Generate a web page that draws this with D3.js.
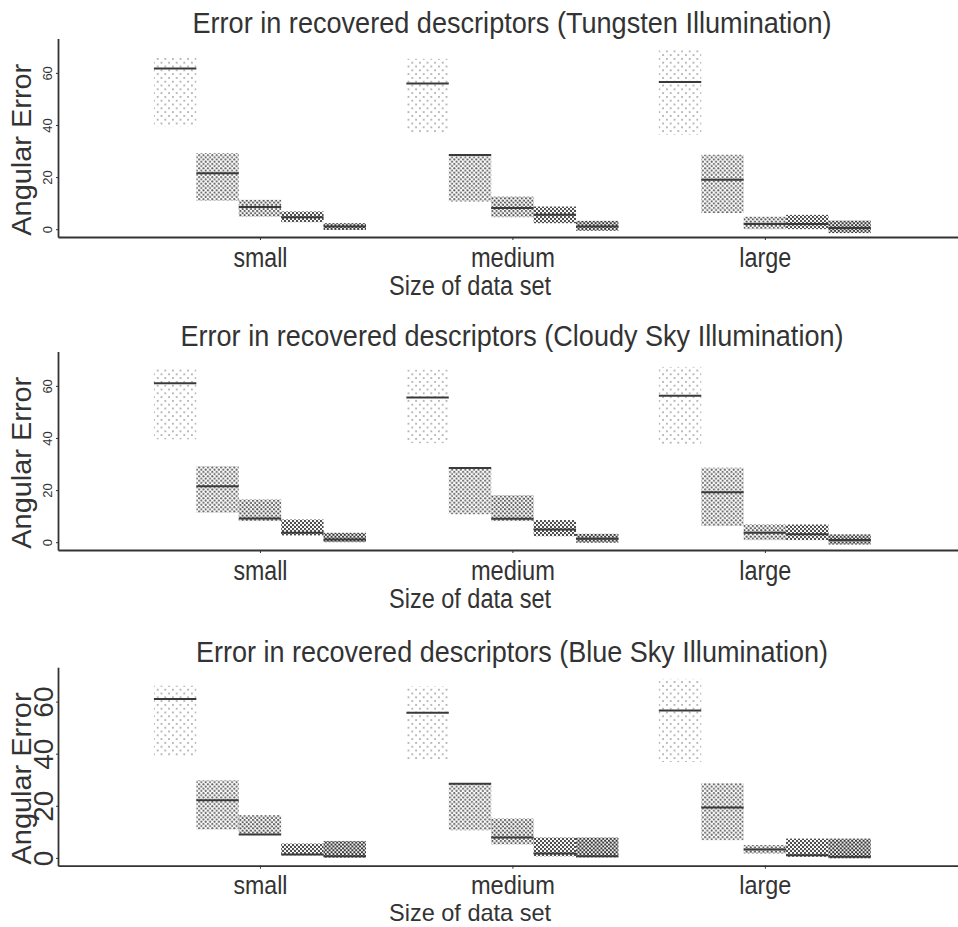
<!DOCTYPE html>
<html>
<head>
<meta charset="utf-8">
<script src="https://cdn.jsdelivr.net/npm/d3@7"></script>
<style>
  html, body { margin: 0; padding: 0; background: #fff; }
  svg { display: block; }
  .narrow { font-family: "Liberation Sans Narrow", "Arial Narrow", "Liberation Sans", Arial, sans-serif; }
  .plain { font-family: "Liberation Sans", Arial, Helvetica, sans-serif; }
</style>
</head>
<body>
<svg id="chart" width="958" height="927"></svg>
<script>
// Data set sizes on the x axis
const categories = ["small", "medium", "large"];
const categoryLabelWidths = [54, 84, 52];
const yTicks = [0, 20, 40, 60];

// Angular error per data-set size: five methods each [low, median, high]
const tungstenLow  = [[39.5, 10.9, 4.8, 2.7, -0.3], [36.9, 10.6, 4.6, 2.3, -0.6], [36.3, 6.2, 0.0, 0.0, -1.5]];
const tungstenMid  = [[61.7, 21.5, 8.5, 4.6, 1.0],  [55.9, 28.5, 8.1, 5.5, 1.0],  [56.5, 19.0, 2.0, 2.0, 0.5]];
const tungstenHigh = [[66.2, 29.2, 11.3, 6.8, 2.3], [65.4, 28.6, 12.5, 8.7, 3.2], [68.7, 28.6, 4.8, 5.5, 3.3]];

const cloudyLow  = [[39.5, 11.3, 8.1, 2.6, 0.0], [38.0, 10.7, 8.1, 2.3, -0.2], [37.6, 6.2, 0.8, 0.8, -0.9]];
const cloudyMid  = [[61.0, 21.5, 9.1, 3.6, 1.0], [55.5, 28.5, 9.0, 4.9, 1.3],  [56.2, 19.2, 3.6, 3.0, 0.8]];
const cloudyHigh = [[66.4, 29.2, 16.4, 8.7, 3.6], [66.2, 28.6, 18.0, 8.5, 3.2], [67.3, 28.6, 6.8, 6.8, 3.0]];

const blueLow  = [[39.0, 10.9, 9.0, 1.0, 0.1], [37.2, 10.6, 5.2, 0.6, 0.2], [36.8, 6.8, 1.7, 0.4, -0.2]];
const blueMid  = [[61.0, 22.1, 9.0, 1.3, 0.6], [55.7, 28.5, 7.8, 1.7, 0.6], [56.6, 19.3, 3.2, 1.0, 0.4]];
const blueHigh = [[66.1, 29.8, 16.4, 5.5, 6.5], [65.8, 28.7, 15.1, 7.8, 7.8], [68.7, 28.7, 4.9, 7.4, 7.4]];

const panels = [
  { title: "Error in recovered descriptors (Tungsten Illumination)", low: tungstenLow, mid: tungstenMid, high: tungstenHigh, axisY: 237, titleW: 639, big: false },
  { title: "Error in recovered descriptors (Cloudy Sky Illumination)", low: cloudyLow, mid: cloudyMid, high: cloudyHigh, axisY: 550, titleW: 663, big: false },
  { title: "Error in recovered descriptors (Blue Sky Illumination)", low: blueLow, mid: blueMid, high: blueHigh, axisY: 865.7, titleW: 632, big: true }
];

const svg = d3.select("#chart");
const ink = "#333";

// Stipple fills, from sparse to dense
const defs = svg.append("defs");
const stipples = [
  { size: 3.8, r: 0.9, fill: "#999" },
  { size: 2.2, r: 1.05, fill: "#666" },
  { size: 2.1, r: 1.1, fill: "#555" },
  { size: 2.0, r: 1.14, fill: "#444" },
  { size: 1.9, r: 1.16, fill: "#333" }
];
stipples.forEach((s, i) => {
  const p = defs.append("pattern")
    .attr("id", "stipple" + i)
    .attr("patternUnits", "userSpaceOnUse")
    .attr("width", s.size * 2).attr("height", s.size * 2);
  [[0.5, 0.5], [1.5, 1.5]].forEach(([a, b]) => {
    p.append("circle").attr("cx", a * s.size).attr("cy", b * s.size).attr("r", s.r).attr("fill", s.fill);
  });
});

const x = d3.scaleLinear().domain([-0.8, 2.765]).range([58, 958]);
const boxW = 0.168;

panels.forEach((pn, pi) => {
  const y = d3.scaleLinear().domain([-3, 73.2]).range([pn.axisY, pn.axisY - 198.5]);
  const g = svg.append("g");
  const last = pi === panels.length - 1;

  // Boxes: low-to-high range filled with stipple, median as a line
  categories.forEach((c, ci) => {
    for (let m = 0; m < 5; m++) {
      const x0 = x(ci + (m - 2.5) * boxW);
      const x1 = x(ci + (m - 1.5) * boxW);
      g.append("rect")
        .attr("x", x0).attr("width", x1 - x0)
        .attr("y", y(pn.high[ci][m]))
        .attr("height", y(pn.low[ci][m]) - y(pn.high[ci][m]))
        .attr("fill", `url(#stipple${m})`);
      g.append("line")
        .attr("x1", x0).attr("x2", x1)
        .attr("y1", y(pn.mid[ci][m])).attr("y2", y(pn.mid[ci][m]))
        .attr("stroke", "#3a3a3a").attr("stroke-width", 2);
    }
  });

  // Y axis with rotated tick labels
  const ya = g.append("g").attr("transform", "translate(58,0)")
    .call(d3.axisLeft(y).tickValues(yTicks).tickSize(2).tickSizeOuter(0));
  ya.select(".domain").attr("stroke", ink).attr("stroke-width", 1.8);
  ya.selectAll(".tick line").attr("stroke", ink);
  ya.selectAll(".tick text")
    .attr("class", "plain")
    .attr("x", 0).attr("dy", 0)
    .attr("y", pn.big ? -5 : -6)
    .attr("transform", "rotate(-90)")
    .attr("text-anchor", "middle")
    .attr("fill", ink)
    .style("font-size", pn.big ? "28px" : "13px");

  // X axis with category labels
  const xa = g.append("g").attr("transform", `translate(0,${pn.axisY})`)
    .call(d3.axisBottom(x).tickValues([0, 1, 2]).tickFormat(i => categories[i]).tickSize(3).tickSizeOuter(0));
  xa.select(".domain").attr("stroke", ink).attr("stroke-width", 1.8);
  xa.selectAll(".tick line").attr("stroke", ink);
  xa.selectAll(".tick text")
    .attr("class", "narrow")
    .attr("y", last ? 28 : 30).attr("dy", 0)
    .attr("fill", ink)
    .attr("textLength", (d) => categoryLabelWidths[d])
    .attr("lengthAdjust", "spacingAndGlyphs")
    .style("font-size", last ? "26px" : "27px");

  // Title
  g.append("text")
    .attr("class", "narrow")
    .attr("x", 512).attr("y", pn.axisY - 204)
    .attr("text-anchor", "middle")
    .attr("textLength", pn.titleW).attr("lengthAdjust", "spacingAndGlyphs")
    .attr("fill", ink)
    .style("font-size", "30px")
    .text(pn.title);

  // X axis title
  g.append("text")
    .attr("class", "narrow")
    .attr("x", 470).attr("y", last ? 921 : pn.axisY + 58)
    .attr("text-anchor", "middle")
    .attr("textLength", 162).attr("lengthAdjust", "spacingAndGlyphs")
    .attr("fill", ink)
    .style("font-size", last ? "24px" : "27px")
    .text("Size of data set");

  // Y axis title
  g.append("text")
    .attr("class", "plain")
    .attr("transform", `translate(31,${y(30.5)}) rotate(-90)`)
    .attr("text-anchor", "middle")
    .attr("textLength", 172).attr("lengthAdjust", "spacingAndGlyphs")
    .attr("fill", ink)
    .style("font-size", "27px")
    .text("Angular Error");
});
</script>
</body>
</html>
